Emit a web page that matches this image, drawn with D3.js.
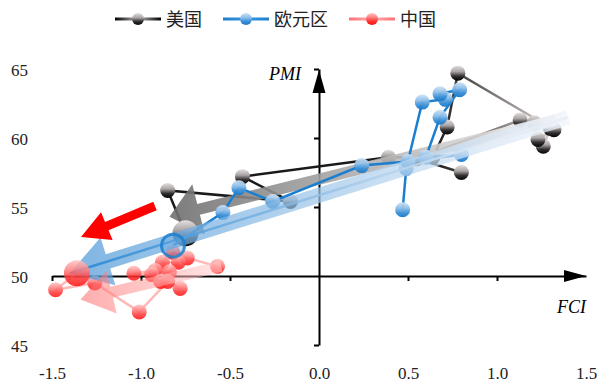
<!DOCTYPE html>
<html><head><meta charset="utf-8">
<script src="https://cdn.jsdelivr.net/npm/d3@7"></script>
<style>body{margin:0;background:#fff}svg{display:block}.lab text{font-family:"Liberation Serif","Times New Roman",serif !important}</style>
</head><body>
<svg id="c" width="599" height="383"></svg>
<script>
// ---- data ----
const seriesNames = ["美国", "欧元区", "中国"];
const usFCI  = [0.80, 0.55, 1.13, 1.21, 1.30, 1.26, 1.23, 1.32, 0.78, 0.72, 0.64, 0.39, -0.43, -0.16, -0.85, -0.75];
const usPMI  = [57.5, 58.5, 61.3, 61.1, 60.7, 59.4, 59.9, 60.6, 64.7, 60.8, 58.6, 58.6, 57.2, 55.4, 56.2, 53.1];
const euFCI  = [0.47, 0.49, 0.58, 0.71, 0.68, 0.79, 0.68, 0.60, 0.80, 0.50, 0.24, -0.26, -0.45, -0.54, -0.82];
const euPMI  = [54.8, 57.8, 62.6, 62.8, 63.2, 63.5, 61.5, 58.6, 58.8, 58.3, 58.0, 55.4, 56.4, 54.6, 52.2];
const cnFCI  = [-0.57, -0.74, -0.82, -0.88, -0.79, -0.84, -0.92, -1.04, -0.94, -0.89, -0.78, -0.85, -1.01, -1.26, -1.48, -1.36];
const cnPMI  = [50.7, 51.3, 51.7, 51.0, 51.0, 50.3, 50.4, 50.2, 50.1, 49.6, 49.1, 49.6, 47.4, 49.5, 49.0, 50.2];
// trend arrows: [fromFCI, fromPMI, toFCI, toPMI]
const usTrend = [1.33, 61.3, -0.84, 54.3];
const euTrend = [1.40, 61.5, -1.40, 50.2];
const cnTrend = [-0.55, 50.7, -1.34, 48.3];
const xTicks = [-1.5, -1.0, -0.5, 0.0, 0.5, 1.0, 1.5];
const yTicks = [45, 50, 55, 60, 65];

const svg = d3.select("#c");
const x = d3.scaleLinear().domain([-1.5, 1.5]).range([52, 586]);
const y = d3.scaleLinear().domain([45, 65]).range([345, 69]);
const defs = svg.append("defs");

function sphereGrad(id, c0, c1, c2, c3) {
  const g = defs.append("linearGradient").attr("id", id).attr("x1", 0).attr("y1", 0).attr("x2", 0).attr("y2", 1);
  g.append("stop").attr("offset", "0%").attr("stop-color", c0);
  g.append("stop").attr("offset", "40%").attr("stop-color", c1);
  g.append("stop").attr("offset", "70%").attr("stop-color", c2);
  g.append("stop").attr("offset", "100%").attr("stop-color", c3);
}
sphereGrad("gUS", "#e4e0e0", "#aaa4a4", "#333030", "#030303");
sphereGrad("gEU", "#cfe2f5", "#8cbde8", "#3a8fd6", "#1677c8");
sphereGrad("gCN", "#ffc4c4", "#ff7a7a", "#ff3030", "#ff1010");

function lineGrad(id, x1, x2, c1, c2) {
  const g = defs.append("linearGradient").attr("id", id).attr("gradientUnits", "userSpaceOnUse")
    .attr("x1", x1).attr("y1", 0).attr("x2", x2).attr("y2", 0);
  g.append("stop").attr("offset", "0%").attr("stop-color", c1);
  g.append("stop").attr("offset", "100%").attr("stop-color", c2);
}
lineGrad("lUS", x(0.65), x(1.3), "#1a1a1a", "#d8d0d0");
lineGrad("aUS", x(-0.84), x(1.33), "#6e6e6e", "#f4f0f0");
lineGrad("aEU", x(-1.40), x(1.40), "#4d98d8", "#f0f4fa");
lineGrad("aEUl", x(-1.40), x(1.0), "#1a7fd0", "#e8eef6");
lineGrad("aCN", x(-1.34), x(-0.55), "#ff6a6a", "#ffd0d0");

function legGrad(id, c) {
  const g = defs.append("linearGradient").attr("id", id).attr("x1", 0).attr("y1", 0).attr("x2", 1).attr("y2", 0);
  g.append("stop").attr("offset", "0%").attr("stop-color", c[0]);
  g.append("stop").attr("offset", "50%").attr("stop-color", c[1]);
  g.append("stop").attr("offset", "100%").attr("stop-color", c[0]);
}

function arrowPath(t, shaft, headW, headL) {
  const x0 = x(t[0]), y0 = y(t[1]), x1 = x(t[2]), y1 = y(t[3]);
  const dx = x1 - x0, dy = y1 - y0, L = Math.hypot(dx, dy);
  const ux = dx / L, uy = dy / L, nx = -uy, ny = ux;
  const bx = x1 - ux * headL, by = y1 - uy * headL;
  const p = [
    [x0 + nx * shaft / 2, y0 + ny * shaft / 2],
    [bx + nx * shaft / 2, by + ny * shaft / 2],
    [bx + nx * headW / 2, by + ny * headW / 2],
    [x1, y1],
    [bx - nx * headW / 2, by - ny * headW / 2],
    [bx - nx * shaft / 2, by - ny * shaft / 2],
    [x0 - nx * shaft / 2, y0 - ny * shaft / 2]
  ];
  return "M" + p.map(d => d.join(",")).join("L") + "Z";
}

// ---- axes (crossing at 0, 50) ----
const gx = svg.append("g").attr("transform", `translate(0,${y(50)})`)
  .call(d3.axisBottom(x).tickValues(xTicks.filter(v => v !== 0 && v !== 1.5)).tickSize(5).tickSizeOuter(0).tickFormat(""));
gx.selectAll("path,line").attr("stroke", "#000").attr("stroke-width", 2);
const gy = svg.append("g").attr("transform", `translate(${x(0)},0)`)
  .call(d3.axisLeft(y).tickValues(yTicks.filter(v => v !== 50)).tickSize(5).tickSizeOuter(0).tickFormat(""));
gy.selectAll("path,line").attr("stroke", "#000").attr("stroke-width", 2);
svg.append("path").attr("d", `M${x(1.5)},${y(50)}L${x(1.5) - 22},${y(50) - 6}L${x(1.5) - 22},${y(50) + 6}Z`).attr("fill", "#000");
svg.append("path").attr("d", `M${x(0)},${y(65) + 1}L${x(0) - 6.5},${y(65) + 24}L${x(0) + 6.5},${y(65) + 24}Z`).attr("fill", "#000");

// tick label axes (outer)
const fmtX = v => d3.format(".1f")(v).replace("−", "-");
const lx = svg.append("g").attr("class", "lab").attr("transform", "translate(0,364)")
  .call(d3.axisBottom(x).tickValues(xTicks).tickSize(0).tickFormat(fmtX));
lx.select(".domain").remove();
const ly = svg.append("g").attr("class", "lab").attr("transform", "translate(31,0)")
  .call(d3.axisLeft(y).tickValues(yTicks).tickSize(0).tickFormat(d3.format("d")));
ly.select(".domain").remove();
svg.selectAll(".lab").attr("font-family", "Liberation Serif, serif").attr("font-size", 17);
svg.selectAll(".lab .tick text").attr("fill", "#222");
ly.selectAll("text").attr("dx", 0).attr("dy", "0.36em");

svg.append("text").attr("x", 301).attr("y", 80).attr("text-anchor", "end")
  .attr("font-family", "Liberation Serif, serif").attr("font-style", "italic").attr("font-size", 18).text("PMI");
svg.append("text").attr("x", 586).attr("y", 313).attr("text-anchor", "end")
  .attr("font-family", "Liberation Serif, serif").attr("font-style", "italic").attr("font-size", 18).text("FCI");

const line = d3.line().x(d => x(d[0])).y(d => y(d[1]));
function pts(a, b) { return a.map((v, i) => [v, b[i]]); }
const us = pts(usFCI, usPMI), eu = pts(euFCI, euPMI), cn = pts(cnFCI, cnPMI);

function drawSeries(data, stroke, grad, r, op, lineOp) {
  svg.append("path").datum(data).attr("d", line).attr("fill", "none")
    .attr("stroke", stroke).attr("stroke-width", 2.5).attr("opacity", lineOp);
  svg.append("g").selectAll("circle").data(data.slice(0, -1)).join("circle")
    .attr("cx", d => x(d[0])).attr("cy", d => y(d[1])).attr("r", r)
    .attr("fill", `url(#${grad})`).attr("opacity", op);
}

// US
drawSeries(us, "url(#lUS)", "gUS", 7.5, 1, 1);
svg.append("path").attr("d", arrowPath(usTrend, 11, 52, 30)).attr("fill", "url(#aUS)").attr("opacity", 0.9);
svg.append("circle").attr("cx", x(us[us.length - 1][0])).attr("cy", y(us[us.length - 1][1])).attr("r", 13).attr("fill", "url(#gUS)");
// Euro
drawSeries(eu, "#1a7fd0", "gEU", 7.5, 0.95, 1);
// China
drawSeries(cn, "#ff8a8a", "gCN", 7.5, 0.85, 0.6);
// trend arrows on top
svg.append("path").attr("d", arrowPath(euTrend, 15, 50, 40)).attr("fill", "url(#aEU)").attr("opacity", 0.72);
svg.append("path").attr("d", `M${x(euTrend[0])},${y(euTrend[1])}L${x(euTrend[2])},${y(euTrend[3])}`).attr("stroke", "url(#aEUl)").attr("stroke-width", 2.5).attr("opacity", 0.8);
svg.append("path").attr("d", arrowPath(cnTrend, 11, 44, 32)).attr("fill", "url(#aCN)").attr("opacity", 0.55);
// end spheres
const eLast = eu[eu.length - 1];
svg.append("circle").attr("cx", x(eLast[0])).attr("cy", y(eLast[1])).attr("r", 11.5)
  .attr("fill", "#5aa4e0").attr("fill-opacity", 0.35).attr("stroke", "#1a7fd0").attr("stroke-width", 3).attr("stroke-opacity", 0.85);
const cLast = cn[cn.length - 1];
svg.append("circle").attr("cx", x(cLast[0])).attr("cy", y(cLast[1])).attr("r", 13).attr("fill", "url(#gCN)").attr("opacity", 0.85);

// solid red arrow
svg.append("path").attr("d", (function () {
  const x0 = 155, y0 = 206, x1 = 81, y1 = 237;
  const dx = x1 - x0, dy = y1 - y0, L = Math.hypot(dx, dy), ux = dx / L, uy = dy / L, nx = -uy, ny = ux;
  const hl = 28, sw = 9, hw = 30, bx = x1 - ux * hl, by = y1 - uy * hl;
  const p = [[x0 + nx * sw / 2, y0 + ny * sw / 2], [bx + nx * sw / 2, by + ny * sw / 2], [bx + nx * hw / 2, by + ny * hw / 2], [x1, y1],
    [bx - nx * hw / 2, by - ny * hw / 2], [bx - nx * sw / 2, by - ny * sw / 2], [x0 - nx * sw / 2, y0 - ny * sw / 2]];
  return "M" + p.map(d => d.join(",")).join("L") + "Z";
})()).attr("fill", "#ff0000");

// legend
legGrad("legUS", ["#000", "#bbb"]);
legGrad("legEU", ["#1a7fd0", "#3a95dc"]);
legGrad("legCN", ["#ff7070", "#ffb0b0"]);
const legend = [
  { name: seriesNames[0], x: 115, stroke: "legUS", grad: "gUS" },
  { name: seriesNames[1], x: 223, stroke: "legEU", grad: "gEU" },
  { name: seriesNames[2], x: 349, stroke: "legCN", grad: "gCN" }
];
const lg = svg.append("g").selectAll("g").data(legend).join("g").attr("transform", d => `translate(${d.x},19)`);
lg.append("rect").attr("x", 0).attr("y", -1.5).attr("width", 46).attr("height", 3).attr("fill", d => `url(#${d.stroke})`);
lg.append("circle").attr("cx", 23).attr("r", 6).attr("fill", d => `url(#${d.grad})`);
lg.append("text").attr("x", 51).attr("y", 7).attr("font-family", "Noto Sans CJK SC, sans-serif").attr("font-size", 18).attr("fill", "#222").text(d => d.name);
</script>
</body></html>
